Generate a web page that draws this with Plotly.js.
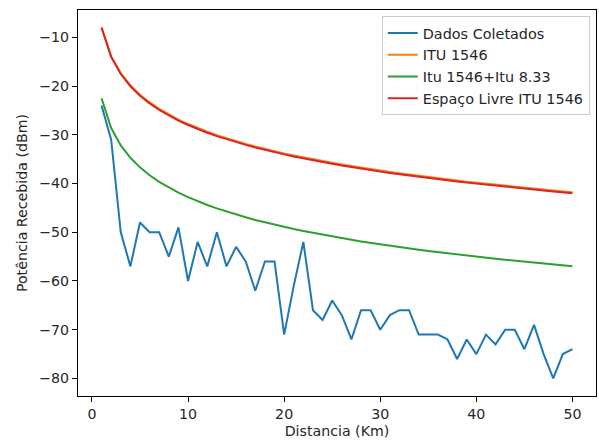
<!DOCTYPE html>
<html>
<head>
<meta charset="utf-8">
<script src="https://cdn.plot.ly/plotly-3.0.1.min.js"></script>
<style>html,body{margin:0;padding:0;background:#fff;}#chart{width:599px;height:442px;}</style>
</head>
<body>
<div id="chart"></div>
<script>
const distancia = [1,2,3,4,5,6,7,8,9,10,11,12,13,14,15,16,17,18,19,20,21,22,23,24,25,26,27,28,29,30,31,32,33,34,35,36,37,38,39,40,41,42,43,44,45,46,47,48,49,50];
const dadosColetados = [-24,-31,-50,-57,-48,-50,-50,-55,-49,-60,-52,-57,-50,-57,-53,-56,-62,-56,-56,-71,-61,-52,-66,-68,-64,-67,-72,-66,-66,-70,-67,-66,-66,-71,-71,-71,-72,-76,-72,-75,-71,-73,-70,-70,-74,-69,-75,-80,-75,-74];
const itu1546 = [-8.00,-13.92,-17.34,-19.84,-21.78,-23.36,-24.70,-25.86,-26.88,-27.80,-28.63,-29.38,-30.08,-30.72,-31.32,-31.88,-32.41,-32.91,-33.38,-33.82,-34.24,-34.65,-35.03,-35.40,-35.76,-36.10,-36.43,-36.74,-37.05,-37.34,-37.63,-37.90,-38.17,-38.43,-38.68,-38.93,-39.16,-39.40,-39.62,-39.84,-40.06,-40.27,-40.47,-40.67,-40.86,-41.06,-41.24,-41.42,-41.60,-41.78];
const itu1546_833 = [-22.50,-28.61,-32.19,-34.72,-36.69,-38.30,-39.66,-40.83,-41.87,-42.80,-43.64,-44.41,-45.11,-45.77,-46.37,-46.94,-47.48,-47.98,-48.46,-48.91,-49.34,-49.75,-50.14,-50.52,-50.88,-51.22,-51.56,-51.88,-52.19,-52.49,-52.77,-53.05,-53.33,-53.59,-53.84,-54.09,-54.33,-54.57,-54.80,-55.02,-55.24,-55.45,-55.66,-55.86,-56.06,-56.25,-56.44,-56.63,-56.81,-56.99];
const espacoLivre = [-8.00,-14.02,-17.54,-20.04,-21.98,-23.56,-24.90,-26.06,-27.08,-28.00,-28.83,-29.58,-30.28,-30.92,-31.52,-32.08,-32.61,-33.11,-33.58,-34.02,-34.44,-34.85,-35.23,-35.60,-35.96,-36.30,-36.63,-36.94,-37.25,-37.54,-37.83,-38.10,-38.37,-38.63,-38.88,-39.13,-39.36,-39.60,-39.82,-40.04,-40.26,-40.47,-40.67,-40.87,-41.06,-41.26,-41.44,-41.62,-41.80,-41.98];
const seriesNames = ['Dados Coletados','ITU 1546','Itu 1546+Itu 8.33','Espaço Livre ITU 1546'];
const seriesColors = ['#1f77b4','#ff7f0e','#2ca02c','#d62728'];
const seriesData = [dadosColetados, itu1546, itu1546_833, espacoLivre];

const traces = seriesData.map((ys, i) => ({
  x: distancia, y: ys, type: 'scatter', mode: 'lines', name: seriesNames[i],
  legendgroup: 'g' + i,
  line: {color: seriesColors[i], width: 2}
}));

const font = {family: 'DejaVu Sans, sans-serif', size: 14.2, color: '#262626'};
const legFont = {family: 'DejaVu Sans, sans-serif', size: 14.4, color: '#262626'};
const layout = {
  width: 599, height: 442,
  margin: {l: 78, r: 3, t: 10, b: 46, pad: 0},
  paper_bgcolor: '#fff', plot_bgcolor: '#fff',
  font: font,
  showlegend: true,
  legend: {x: 0.988, y: 0.984, xanchor: 'right', yanchor: 'top', bgcolor: 'rgba(255,255,255,0.8)',
           bordercolor: '#cccccc', borderwidth: 1, font: legFont, itemwidth: 30, tracegroupgap: 2,
           traceorder: 'normal'},
  xaxis: {range: [-1.45, 52.45], dtick: 10, tick0: 0, showgrid: false, zeroline: false,
          showline: true, mirror: true, linecolor: '#000', linewidth: 1,
          ticks: 'outside', ticklen: 5, tickcolor: '#000', tickfont: font,
          title: {text: 'Distancia (Km)', font: font, standoff: 5}},
  yaxis: {range: [-83.6, -4.4], dtick: 10, tick0: 0, showgrid: false, zeroline: false,
          showline: true, mirror: true, linecolor: '#000', linewidth: 1,
          ticks: 'outside', ticklen: 5, tickcolor: '#000', tickfont: font,
          title: {text: 'Potência Recebida (dBm)', font: font, standoff: 8}}
};
Plotly.newPlot('chart', traces, layout, {displayModeBar: false, staticPlot: true});
</script>
</body>
</html>
